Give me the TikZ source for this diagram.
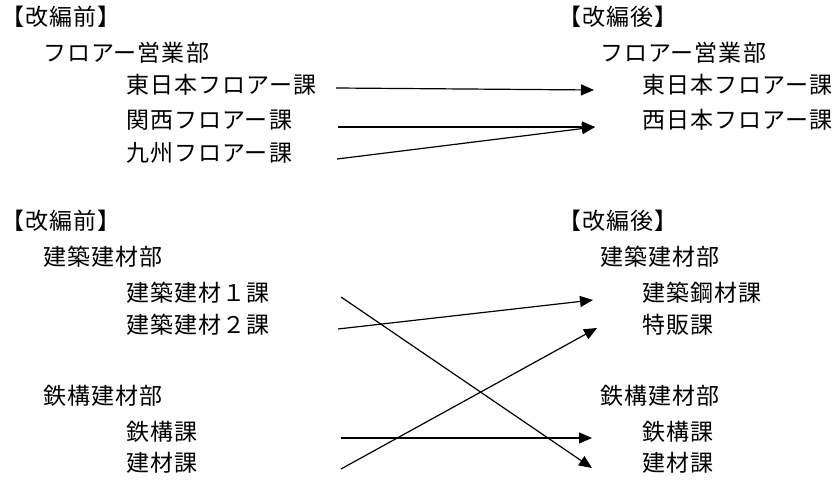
\documentclass[tikz,border=0pt]{standalone}
\usepackage{fontspec}
\newfontfamily\jp[LetterSpace=4.5]{Noto Sans CJK JP}
\usetikzlibrary{arrows.meta}
\begin{document}
\begin{tikzpicture}[x=1pt,y=-1pt,
  lbl/.style={anchor=west,inner sep=0pt,font=\jp\fontsize{23}{23}\selectfont,
    text height=0.83em,text depth=0.07em},
  arr/.style={line width=1.2pt,-{Triangle[length=13pt,width=11pt]}}]
\useasboundingbox[fill=white] (0,0) rectangle (836,484);
% top section, before
\node[lbl] (tb) at (1,22) {【改編前】};
\node[lbl] (tbd) at (43,58) {フロアー営業部};
\node[lbl] (tb1) at (126,90) {東日本フロアー課};
\node[lbl] (tb2) at (126,125) {関西フロアー課};
\node[lbl] (tb3) at (126,158) {九州フロアー課};
% top section, after
\node[lbl] (ta) at (558,22) {【改編後】};
\node[lbl] (tad) at (600,58) {フロアー営業部};
\node[lbl] (ta1) at (642,90) {東日本フロアー課};
\node[lbl] (ta2) at (642,125) {西日本フロアー課};
% bottom section, before
\node[lbl] (bb) at (1,226) {【改編前】};
\node[lbl] (bbd1) at (43,262) {建築建材部};
\node[lbl] (bb1) at (126,298) {建築建材１課};
\node[lbl] (bb2) at (126,330) {建築建材２課};
\node[lbl] (bbd2) at (43,401) {鉄構建材部};
\node[lbl] (bb3) at (126,437) {鉄構課};
\node[lbl] (bb4) at (126,468) {建材課};
% bottom section, after
\node[lbl] (ba) at (558,226) {【改編後】};
\node[lbl] (bad1) at (600,262) {建築建材部};
\node[lbl] (ba1) at (642,298) {建築鋼材課};
\node[lbl] (ba2) at (642,330) {特販課};
\node[lbl] (bad2) at (600,401) {鉄構建材部};
\node[lbl] (ba3) at (642,437) {鉄構課};
\node[lbl] (ba4) at (642,468) {建材課};
% connector end points
\coordinate (s1) at (336,88);  \coordinate (e1) at (594,90);
\coordinate (s2) at (338,127); \coordinate (e2) at (595,127);
\coordinate (s3) at (337,159);
\coordinate (u1) at (341,297); \coordinate (v4) at (592,468);
\coordinate (u2) at (338,329); \coordinate (v1) at (593,300);
\coordinate (u4) at (341,469); \coordinate (v2) at (597,328);
\coordinate (u3) at (341,438); \coordinate (v3) at (592,438);
\draw[arr] (s1) -- (e1);
\draw[arr] (s2) -- (e2);
\draw[arr] (s3) -- (e2);
\draw[arr] (u1) -- (v4);
\draw[arr] (u2) -- (v1);
\draw[arr] (u4) -- (v2);
\draw[arr] (u3) -- (v3);
\end{tikzpicture}
\end{document}
